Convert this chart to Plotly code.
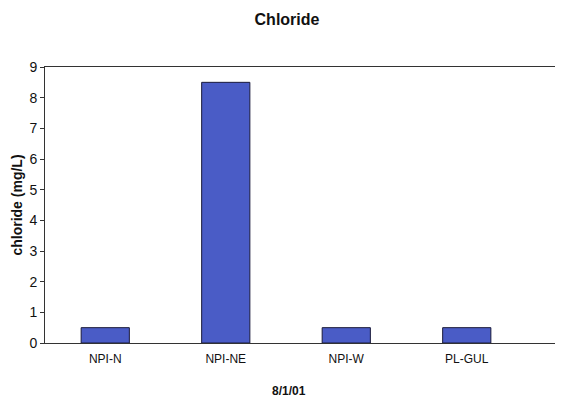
import plotly.graph_objects as go

categories = ["NPI-N", "NPI-NE", "NPI-W", "PL-GUL"]
chloride = [0.5, 8.5, 0.5, 0.5]
y_ticks = [0, 1, 2, 3, 4, 5, 6, 7, 8, 9]

fig = go.Figure()
fig.add_trace(go.Bar(
    x=categories, y=chloride, width=0.4,
    marker=dict(color="#4a5cc6", line=dict(color="#1a1a3a", width=1)),
))

font = "Liberation Sans, Arial, sans-serif"
fig.update_layout(
    width=563, height=400,
    margin=dict(l=37, r=0, t=59, b=65),
    paper_bgcolor="white", plot_bgcolor="white",
    showlegend=False,
    title=dict(text="<b>Chloride</b>", x=279 / 563, xanchor="center", y=1 - 11 / 400, yanchor="middle",
               font=dict(family=font, size=16, color="#111")),
    xaxis=dict(
        type="category", range=[-0.5, 3.865],
        showline=True, linecolor="#333", linewidth=1, mirror=True,
        showgrid=False, ticks="", ticklabelstandoff=5,
        tickfont=dict(family=font, size=12, color="#111"),
    ),
    yaxis=dict(
        range=[0, 9], tickvals=y_ticks,
        showline=True, linecolor="#333", linewidth=1,
        showgrid=False, zeroline=False,
        ticks="outside", ticklen=4, tickcolor="#333",
        tickfont=dict(family=font, size=14, color="#111"),
        title=dict(text="<b>chloride (mg/L)</b>", font=dict(family=font, size=14, color="#111"), standoff=3),
    ),
    annotations=[dict(
        text="<b>8/1/01</b>", xref="paper", yref="paper", x=(281 - 37) / 526, y=0,
        xanchor="center", yanchor="top", yshift=-39, showarrow=False,
        font=dict(family=font, size=12, color="#111"),
    )],
)

fig.write_html("out.html")
